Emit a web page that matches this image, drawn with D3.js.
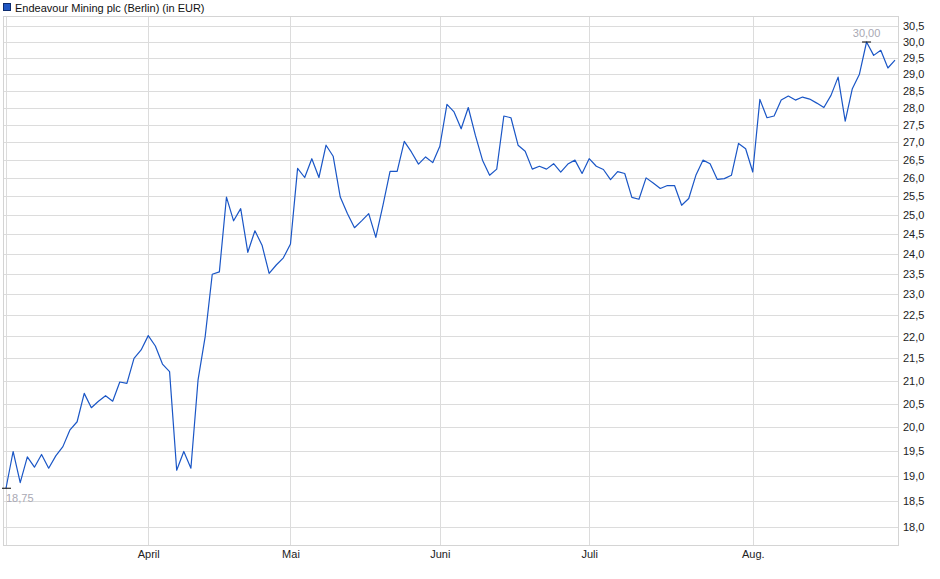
<!DOCTYPE html>
<html>
<head>
<meta charset="utf-8">
<script src="https://cdn.jsdelivr.net/npm/d3@7"></script>
<style>
  body { margin: 0; background: #fff; }
  svg { font-family: "Liberation Sans", Arial, sans-serif; }
</style>
</head>
<body>
<svg id="chart"></svg>
<script>
// closing prices (Berlin, EUR), one per trading day from early March to end of August
const prices = [
  18.75, 19.49, 18.86, 19.38, 19.17, 19.43, 19.15, 19.40, 19.59, 19.94,
  20.11, 20.72, 20.41, 20.55, 20.67, 20.55, 20.97, 20.94, 21.50, 21.69,
  22.02, 21.78, 21.37, 21.20, 19.11, 19.49, 19.15, 21.01, 21.99, 23.49,
  23.55, 25.48, 24.85, 25.17, 24.04, 24.59, 24.22, 23.51, 23.72, 23.90,
  24.25, 26.26, 26.01, 26.53, 26.01, 26.91, 26.60, 25.48, 25.04, 24.67,
  24.85, 25.04, 24.42, 25.26, 26.18, 26.18, 27.02, 26.72, 26.38, 26.58,
  26.42, 26.88, 28.09, 27.87, 27.38, 28.00, 27.19, 26.49, 26.07, 26.24,
  27.75, 27.70, 26.91, 26.74, 26.24, 26.32, 26.24, 26.39, 26.16, 26.38,
  26.49, 26.12, 26.53, 26.32, 26.23, 25.95, 26.17, 26.12, 25.47, 25.42,
  26.00, 25.86, 25.71, 25.79, 25.79, 25.26, 25.44, 26.07, 26.49, 26.39,
  25.96, 25.98, 26.07, 26.96, 26.81, 26.16, 28.24, 27.70, 27.75, 28.22,
  28.34, 28.22, 28.31, 28.25, 28.13, 28.00, 28.36, 28.91, 27.60, 28.56,
  29.00, 30.00, 29.58, 29.74, 29.19, 29.43
];

// first trading day of each month (index into prices)
const monthIdx = [0, 20, 40, 61, 82, 105];
const monthLabels = ["", "April", "Mai", "Juni", "Juli", "Aug."];

const yTicks = [18.0, 18.5, 19.0, 19.5, 20.0, 20.5, 21.0, 21.5, 22.0, 22.5, 23.0, 23.5,
  24.0, 24.5, 25.0, 25.5, 26.0, 26.5, 27.0, 27.5, 28.0, 28.5, 29.0, 29.5, 30.0, 30.5];

const title = "Endeavour Mining plc (Berlin) (in EUR)";

const width = 940, height = 579;
const box = { left: 3, right: 898, top: 16, bottom: 545 };
const comma = f => s => d3.format(f)(s).replace(".", ",");

const svg = d3.select("#chart")
  .attr("width", width)
  .attr("height", height)
  .attr("viewBox", [0, 0, width, height]);

const x = d3.scaleLinear()
  .domain([0, prices.length - 1])
  .range([6, 895]);

// log price axis
const y = d3.scaleLog()
  .domain([18, 30])
  .range([527, 42]);

// legend
svg.append("rect")
  .attr("x", 3.5).attr("y", 3.5)
  .attr("width", 7).attr("height", 7)
  .attr("fill", "#1f56c3")
  .attr("stroke", "#0d2c6e");
svg.append("text")
  .attr("x", 15).attr("y", 11.5)
  .attr("font-size", 11)
  .attr("fill", "#111")
  .text(title);

// horizontal grid
svg.append("g")
  .selectAll("line")
  .data(yTicks)
  .join("line")
  .attr("x1", box.left).attr("x2", box.right)
  .attr("y1", d => Math.round(y(d)) + 0.5)
  .attr("y2", d => Math.round(y(d)) + 0.5)
  .attr("stroke", "#dcdcdc");

// vertical grid at month starts
svg.append("g")
  .selectAll("line")
  .data(monthIdx)
  .join("line")
  .attr("x1", d => Math.round(x(d)) + 0.5)
  .attr("x2", d => Math.round(x(d)) + 0.5)
  .attr("y1", box.top).attr("y2", box.bottom)
  .attr("stroke", "#dcdcdc");

// frame
svg.append("rect")
  .attr("x", box.left + 0.5).attr("y", box.top + 0.5)
  .attr("width", box.right - box.left).attr("height", box.bottom - box.top)
  .attr("fill", "none")
  .attr("stroke", "#d4d4d4");

// right axis
const yAxis = svg.append("g")
  .attr("transform", `translate(${box.right},0)`)
  .call(d3.axisRight(y).tickValues(yTicks).tickFormat(comma(".1f")).tickSize(0).tickPadding(5));
yAxis.select(".domain").remove();
yAxis.selectAll("text").attr("font-size", 11).attr("fill", "#222").attr("font-family", null);

// bottom axis
const xAxis = svg.append("g")
  .attr("transform", `translate(0,${box.bottom})`)
  .call(d3.axisBottom(x).tickValues(monthIdx).tickFormat((d, i) => monthLabels[i]).tickSize(0).tickPadding(5));
xAxis.select(".domain").remove();
xAxis.selectAll("text").attr("font-size", 11).attr("fill", "#222").attr("font-family", null);

// price line
const line = d3.line()
  .x((d, i) => x(i))
  .y(d => y(d));

svg.append("path")
  .datum(prices)
  .attr("fill", "none")
  .attr("stroke", "#1a56c6")
  .attr("stroke-width", 1.2)
  .attr("stroke-linejoin", "round")
  .attr("d", line);

// high / low markers
const hi = d3.maxIndex(prices), lo = d3.minIndex(prices);
const fmt2 = comma(".2f");

svg.append("line")
  .attr("x1", x(hi) - 4.5).attr("x2", x(hi) + 4.5)
  .attr("y1", y(prices[hi])).attr("y2", y(prices[hi]))
  .attr("stroke", "#000");
svg.append("text")
  .attr("x", x(hi)).attr("y", y(prices[hi]) - 5)
  .attr("text-anchor", "middle")
  .attr("font-size", 11)
  .attr("fill", "#a9a9b4")
  .text(fmt2(prices[hi]));

svg.append("line")
  .attr("x1", x(lo) - 4).attr("x2", x(lo) + 5)
  .attr("y1", y(prices[lo])).attr("y2", y(prices[lo]))
  .attr("stroke", "#000");
svg.append("text")
  .attr("x", x(lo)).attr("y", y(prices[lo]) + 14)
  .attr("font-size", 11)
  .attr("fill", "#a9a9b4")
  .text(fmt2(prices[lo]));
</script>
</body>
</html>
